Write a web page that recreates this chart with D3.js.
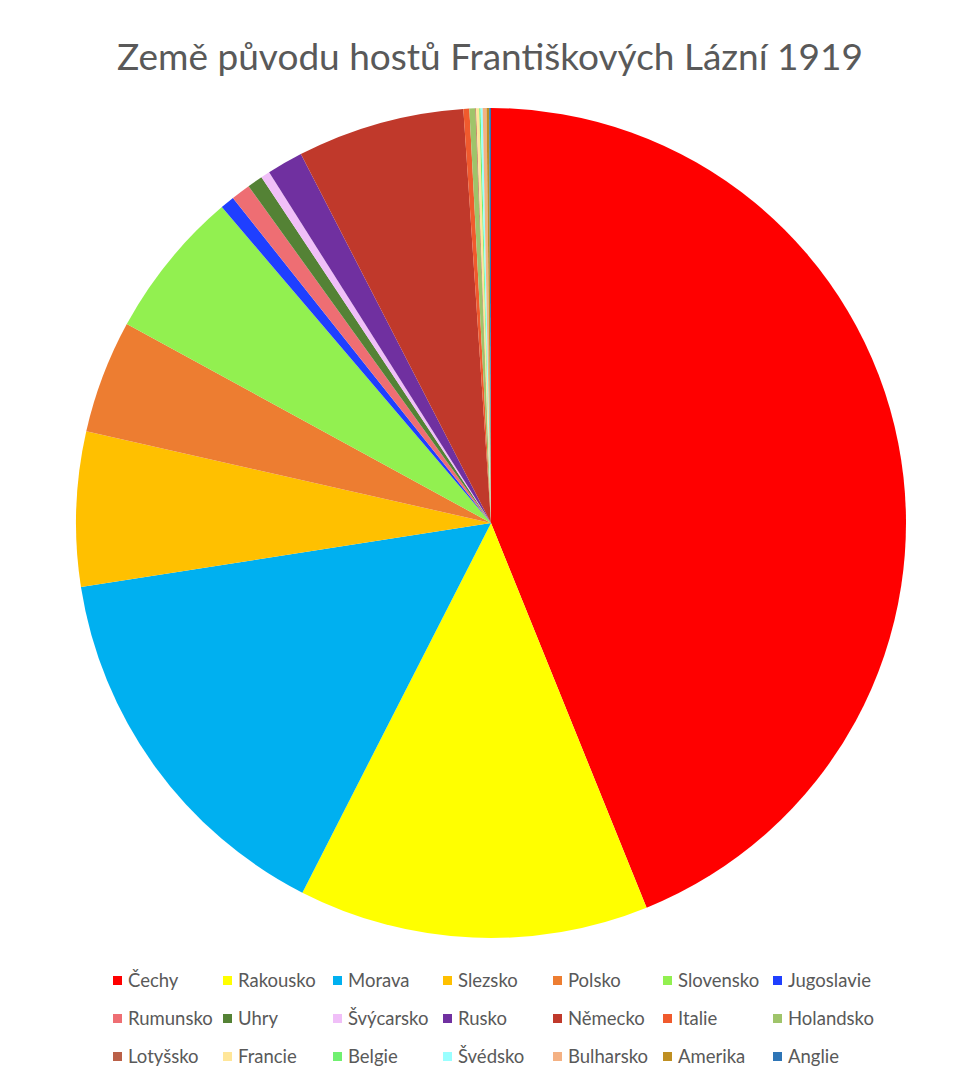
<!DOCTYPE html>
<html><head><meta charset="utf-8">
<script src="https://cdn.jsdelivr.net/npm/d3@7"></script>
<style>body{margin:0;background:#fff}svg{display:block}</style>
</head><body>
<svg id="c" width="961" height="1079"></svg>
<script>
const categories = ["Čechy","Rakousko","Morava","Slezsko","Polsko","Slovensko","Jugoslavie","Rumunsko","Uhry","Švýcarsko","Rusko","Německo","Italie","Holandsko","Lotyšsko","Francie","Belgie","Švédsko","Bulharsko","Amerika","Anglie"];
const values = [43.8,13.6,15.0,6.0,4.4,5.8,0.55,0.75,0.6,0.35,1.4,6.5,0.23,0.23,0.03,0.12,0.05,0.08,0.15,0.1,0.07];
const colors = ["#FF0000","#FFFF00","#00B0F0","#FFC000","#ED7D31","#92F050","#1F3FFF","#EE6E73","#548235","#F0BFF8","#7030A0","#C0392B","#F05A2D","#9FC46A","#BA6048","#FFE699","#70F070","#99FFFF","#F4B183","#BF8F22","#2E75B6"];
const title = "Země původu hostů Františkových Lázní 1919";

const svg = d3.select("#c");
const cx = 491, cy = 523, r = 415;
const pie = d3.pie().sort(null).value(d => d.v);
const arc = d3.arc().innerRadius(0).outerRadius(r);
const data = categories.map((c,i)=>({c, v: values[i], col: colors[i]}));
svg.append("g").attr("transform",`translate(${cx},${cy})`)
  .selectAll("path").data(pie(data)).join("path")
  .attr("d", arc).attr("fill", d => d.data.col);

svg.append("text").attr("x", 490).attr("y", 70).attr("text-anchor","middle")
  .attr("font-family","Lato, 'Open Sans', sans-serif").attr("font-size",37)
  .attr("fill","#595959").text(title);

const colScale = d3.scaleLinear().domain([0,1]).range([113,223]);
const rowScale = d3.scaleLinear().domain([0,1]).range([981,1019]);
const lg = svg.append("g");
data.forEach((d,i)=>{
  const col = i % 7, row = Math.floor(i/7);
  const x = colScale(col), y = rowScale(row);
  lg.append("rect").attr("x",x).attr("y",y-5).attr("width",9).attr("height",9).attr("fill",d.col);
  lg.append("text").attr("x",x+15).attr("y",y+6).attr("font-family","Lato, 'Open Sans', sans-serif")
    .attr("font-size",18.5).attr("fill","#595959").text(d.c);
});
</script>
</body></html>
